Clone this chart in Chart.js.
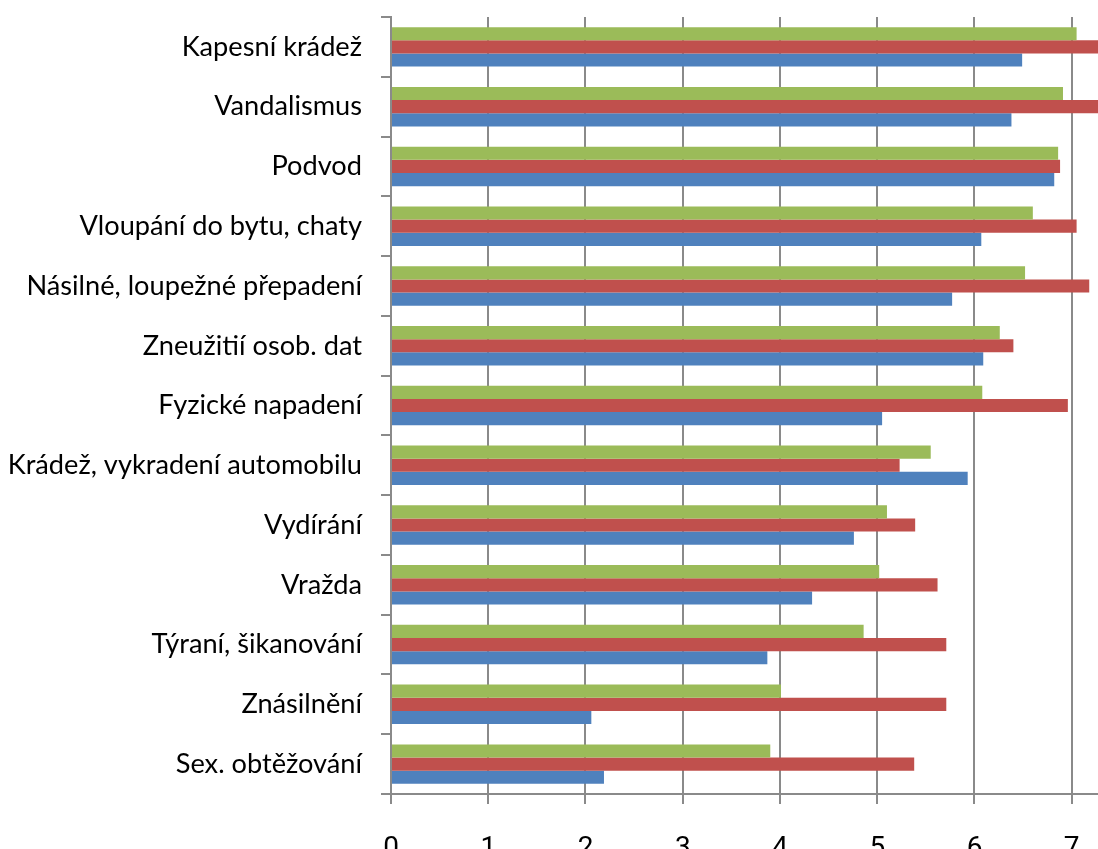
<!DOCTYPE html>
<html lang="cs">
<head>
  <meta charset="UTF-8" />
  <title>Vnímání trestných činů</title>
  <script src="https://cdn.jsdelivr.net/npm/chart.js"></script>
  <style>
    body { margin: 0; background: #fff; }
    #wrap { width: 1098px; height: 849px; }
  </style>
</head>
<body>
  <div id="wrap"><canvas id="chart" width="1098" height="849"></canvas></div>

  <script>
    // categories, top to bottom
    const categories = [
      "Kapesní krádež",
      "Vandalismus",
      "Podvod",
      "Vloupání do bytu, chaty",
      "Násilné, loupežné přepadení",
      "Zneužitií osob. dat",
      "Fyzické napadení",
      "Krádež, vykradení automobilu",
      "Vydírání",
      "Vražda",
      "Týraní, šikanování",
      "Znásilnění",
      "Sex. obtěžování"
    ];

    // series values (green = top bar, red = middle, blue = bottom)
    const greenValues = [7.05, 6.91, 6.86, 6.60, 6.52, 6.26, 6.08, 5.55, 5.10, 5.02, 4.86, 4.01, 3.90];
    const redValues   = [7.40, 7.40, 6.88, 7.05, 7.18, 6.40, 6.96, 5.23, 5.39, 5.62, 5.71, 5.71, 5.38];
    const blueValues  = [6.49, 6.38, 6.82, 6.07, 5.77, 6.09, 5.05, 5.93, 4.76, 4.33, 3.87, 2.06, 2.19];

    const xTicks = [0, 1, 2, 3, 4, 5, 6, 7];
    const xMax = 7.27;

    const gridGray = "#8a8a8a";

    // pick a label font size so the longest category fits like in the original
    const probe = document.createElement("canvas").getContext("2d");
    const catFamily = "Lato, 'Open Sans', sans-serif";
    probe.font = "100px " + catFamily;
    const longest = categories.reduce((a, b) => a.length > b.length ? a : b);
    const catSize = Math.round(100 * 354 / probe.measureText(longest).width * 10) / 10;

    new Chart(document.getElementById("chart"), {
      type: "bar",
      data: {
        labels: categories,
        datasets: [
          { label: "Řada 3", data: greenValues, backgroundColor: "#9BBB59" },
          { label: "Řada 2", data: redValues, backgroundColor: "#C0504D" },
          { label: "Řada 1", data: blueValues, backgroundColor: "#4F81BD" }
        ]
      },
      options: {
        indexAxis: "y",
        responsive: false,
        animation: false,
        layout: { padding: { top: 17, right: 0, bottom: 0, left: 0 } },
        datasets: { bar: { categoryPercentage: 0.66, barPercentage: 1 } },
        plugins: { legend: { display: false }, tooltip: { enabled: false } },
        scales: {
          x: {
            min: 0,
            max: xMax,
            afterFit: s => { s.height = 55; s.paddingLeft = 0; s.paddingRight = 0; },
            afterBuildTicks: s => { s.ticks = xTicks.map(v => ({ value: v })); },
            ticks: {
              includeBounds: false,
              padding: 28,
              color: "#000",
              font: { family: "'Liberation Sans Narrow', 'Roboto', sans-serif", size: 28 }
            },
            grid: { color: gridGray, lineWidth: 2, tickLength: 10 },
            border: { color: gridGray, width: 2 }
          },
          y: {
            afterFit: s => { s.width = 391; s.paddingTop = 0; s.paddingBottom = 0; },
            ticks: {
              padding: 19,
              color: "#000",
              font: { family: catFamily, size: catSize }
            },
            grid: { drawOnChartArea: false, offset: true, color: gridGray, lineWidth: 2, tickLength: 10 },
            border: { color: gridGray, width: 2 }
          }
        }
      }
    });
  </script>
</body>
</html>
